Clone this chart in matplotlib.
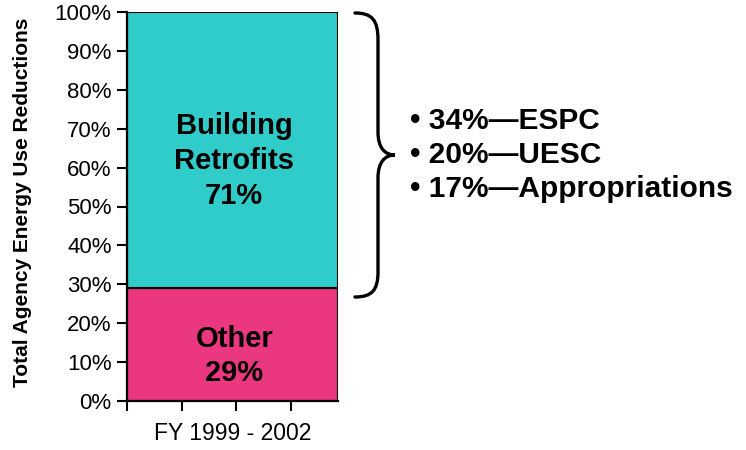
import matplotlib
matplotlib.use("Agg")
import matplotlib.pyplot as plt
import matplotlib.patches as mpatches
import matplotlib.path as mpath

plt.rcParams['font.family'] = ['Liberation Sans', 'DejaVu Sans']

# data
segments = ["Other", "Building Retrofits"]
shares = [29, 71]
seg_colors = ["#EA3780", "#30CCCA"]
seg_labels = ["Other\n29%", "Building\nRetrofits\n71%"]
period = "FY 1999 - 2002"
breakdown = ["34%\u2014ESPC", "20%\u2014UESC", "17%\u2014Appropriations"]
yticks = list(range(0, 101, 10))

W, H = 746, 450
fig = plt.figure(figsize=(W / 100, H / 100), dpi=100)
ax = fig.add_axes([127 / W, 1 - 401 / H, 211 / W, 389 / H])

bar_w = 3.87
bottom = 0
label_y = [11.6, 61.7]
for name, val, col, lab, ly in zip(segments, shares, seg_colors, seg_labels, label_y):
    ax.bar(0, val, width=bar_w, bottom=bottom, align='edge',
           color=col, edgecolor='black', linewidth=1.5)
    ax.text(bar_w / 2 + 0.03, ly, lab, ha='center', va='center',
            fontsize=21, fontweight='bold', linespacing=1.3)
    bottom += val

ax.set_xlim(0, bar_w)
ax.set_ylim(0, 100)
ax.set_xticks([0, 1, 2, 3])
ax.set_xticklabels([])
ax.set_yticks(yticks)
ax.set_yticklabels([f"{v}%" for v in yticks], fontsize=16)
for s in ["top", "right"]:
    ax.spines[s].set_visible(False)
for s in ["left", "bottom"]:
    ax.spines[s].set_linewidth(1.6)
ax.tick_params(axis='both', direction='out', length=7, width=1.5, pad=4)

ax.set_xlabel(period, fontsize=16.5)
ax.xaxis.set_label_coords(0.502, -0.055)
ax.set_ylabel("Total Agency Energy Use Reductions", fontsize=15, fontweight='bold')
ax.yaxis.set_label_coords(-0.45, 0.51)

# overlay in pixel coordinates for the brace and the bullet list
ov = fig.add_axes([0, 0, 1, 1])
ov.set_xlim(0, W)
ov.set_ylim(H, 0)
ov.axis('off')

C4 = mpath.Path.CURVE4
verts = [(355, 13), (372, 13), (378, 20), (378, 40),
         (378, 132),
         (378, 148), (385, 155), (395, 155),
         (385, 155), (378, 162), (378, 178),
         (378, 272),
         (378, 290), (372, 297), (355, 297)]
codes = [mpath.Path.MOVETO, C4, C4, C4,
         mpath.Path.LINETO,
         C4, C4, C4,
         C4, C4, C4,
         mpath.Path.LINETO,
         C4, C4, C4]
ov.add_patch(mpatches.PathPatch(mpath.Path(verts, codes), fill=False,
                                edgecolor='black', linewidth=2.4,
                                capstyle='round'))

for i, item in enumerate(breakdown):
    ov.text(410, 121 + 34 * i, "\u2022 " + item, ha='left', va='center',
            fontsize=21.5, fontweight='bold')

fig.savefig("out.png", dpi=100)
